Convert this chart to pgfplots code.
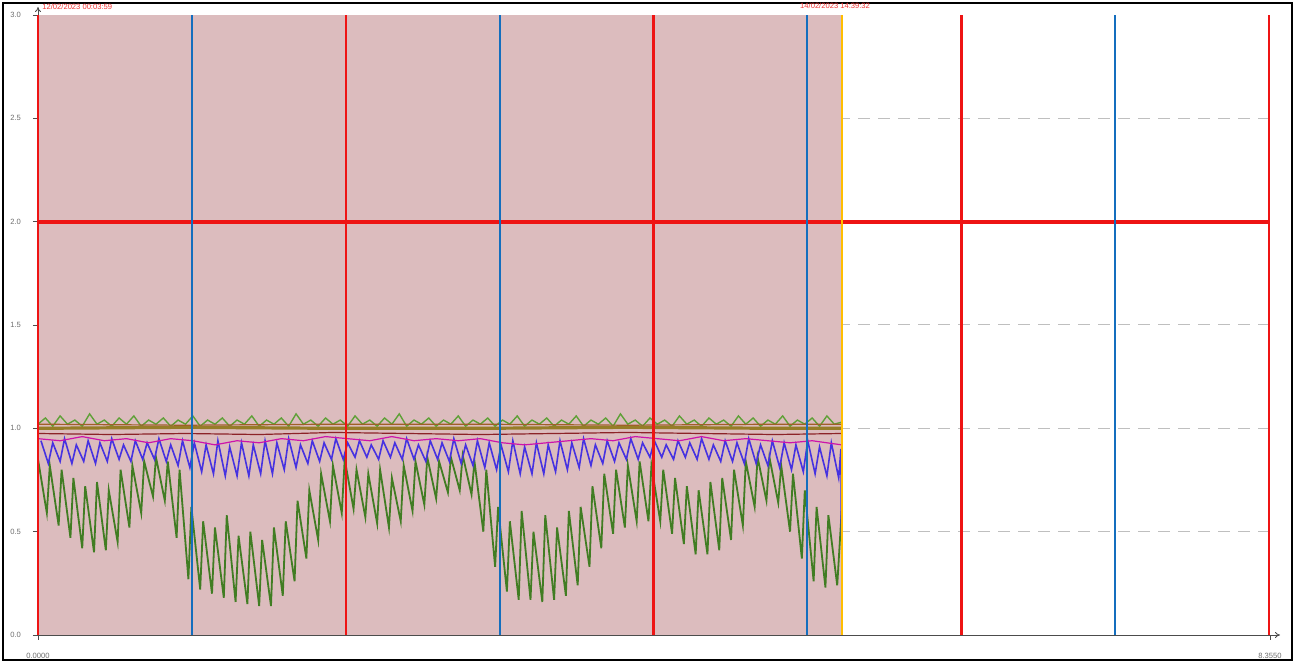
\documentclass[border=0pt]{standalone}
\usepackage{pgfplots}
\pgfplotsset{compat=1.18}
\usepackage{fontspec}
\setmainfont{Liberation Sans}
\usetikzlibrary{arrows.meta}
\definecolor{shade}{RGB}{220,188,190}
\definecolor{vred}{RGB}{238,20,20}
\definecolor{vblue}{RGB}{20,110,190}
\definecolor{vorange}{RGB}{255,190,0}
\definecolor{gtop}{RGB}{95,160,55}
\definecolor{glow}{RGB}{65,125,35}
\definecolor{pblue}{RGB}{70,50,225}
\definecolor{mag}{RGB}{205,20,170}
\definecolor{olive}{RGB}{150,125,40}
\definecolor{dred}{RGB}{140,35,40}
\definecolor{brn}{RGB}{160,95,40}
\definecolor{lbl}{RGB}{110,110,110}
\definecolor{dtxt}{RGB}{240,50,50}
\begin{document}
\begin{tikzpicture}
\useasboundingbox (0,0) rectangle (647.5pt,331.5pt);
\draw[black, line width=1pt] (1.5pt,1.5pt) rectangle (646pt,330pt);
\begin{axis}[
  at={(19pt,14pt)}, anchor=south west,
  scale only axis, width=616pt, height=310pt,
  xmin=0, xmax=8.355, ymin=0, ymax=3,
  clip=false,
  axis lines=left,
  axis line style={draw=black!70, line width=0.4pt},
  x axis line style={-{To[length=2.5pt,width=3pt]}, shorten >=-5pt},
  y axis line style={-{To[length=2.5pt,width=3pt]}, shorten >=-4pt},
  ytick={0,0.5,1,1.5,2,2.5,3},
  yticklabels={0.0,0.5,1.0,1.5,2.0,2.5,3.0},
  xtick={0,8.355}, xticklabels={0.0000,8.3550},
  tick style={black!70, line width=0.4pt}, tick align=outside, major tick length=2.5pt,
  ticklabel style={font=\fontsize{3.8}{4}\selectfont, text=lbl},
  yticklabel style={xshift=-2.5pt},
  xticklabel style={yshift=-3pt},
]
% dashed grid
\addplot[gray!50, line width=0.5pt, dash pattern=on 6pt off 4pt] coordinates {(0,0.5)(8.355,0.5)};
\addplot[gray!50, line width=0.5pt, dash pattern=on 6pt off 4pt] coordinates {(0,1)(8.355,1)};
\addplot[gray!50, line width=0.5pt, dash pattern=on 6pt off 4pt] coordinates {(0,1.5)(8.355,1.5)};
\addplot[gray!50, line width=0.5pt, dash pattern=on 6pt off 4pt] coordinates {(0,2.5)(8.355,2.5)};
% shaded region
\addplot[fill=shade, draw=none] coordinates {(0,3)(5.453,3)} \closedcycle;
% lower green
\addplot[glow, line width=0.9pt] coordinates {(0.00,0.85)(0.06,0.59)(0.08,0.82)(0.14,0.53)(0.16,0.80)(0.22,0.47)(0.24,0.76)(0.30,0.42)(0.32,0.72)(0.38,0.40)(0.40,0.74)(0.46,0.41)(0.48,0.70)(0.54,0.45)(0.56,0.80)(0.62,0.52)(0.64,0.82)(0.70,0.59)(0.72,0.84)(0.78,0.67)(0.80,0.86)(0.86,0.65)(0.88,0.84)(0.94,0.47)(0.96,0.80)(1.02,0.27)(1.04,0.62)(1.10,0.22)(1.12,0.55)(1.18,0.20)(1.20,0.52)(1.26,0.18)(1.28,0.58)(1.34,0.16)(1.36,0.48)(1.42,0.15)(1.44,0.50)(1.50,0.14)(1.52,0.46)(1.58,0.14)(1.60,0.52)(1.66,0.19)(1.68,0.55)(1.74,0.26)(1.76,0.65)(1.82,0.37)(1.84,0.70)(1.90,0.46)(1.92,0.78)(1.98,0.55)(2.00,0.82)(2.06,0.59)(2.08,0.85)(2.14,0.61)(2.16,0.80)(2.22,0.57)(2.24,0.78)(2.30,0.54)(2.32,0.80)(2.38,0.52)(2.40,0.76)(2.46,0.55)(2.48,0.82)(2.54,0.60)(2.56,0.84)(2.62,0.63)(2.64,0.86)(2.70,0.66)(2.72,0.84)(2.78,0.69)(2.80,0.86)(2.86,0.70)(2.88,0.87)(2.94,0.68)(2.96,0.84)(3.02,0.50)(3.04,0.80)(3.10,0.33)(3.12,0.62)(3.18,0.21)(3.20,0.55)(3.26,0.17)(3.28,0.60)(3.34,0.17)(3.36,0.50)(3.42,0.16)(3.44,0.58)(3.50,0.17)(3.52,0.52)(3.58,0.19)(3.60,0.60)(3.66,0.24)(3.68,0.62)(3.74,0.33)(3.76,0.72)(3.82,0.42)(3.84,0.78)(3.90,0.49)(3.92,0.80)(3.98,0.52)(4.00,0.82)(4.06,0.55)(4.08,0.84)(4.14,0.55)(4.16,0.82)(4.22,0.55)(4.24,0.80)(4.30,0.49)(4.32,0.76)(4.38,0.44)(4.40,0.72)(4.46,0.39)(4.48,0.70)(4.54,0.39)(4.56,0.74)(4.62,0.41)(4.64,0.76)(4.70,0.46)(4.72,0.80)(4.78,0.53)(4.80,0.84)(4.86,0.62)(4.88,0.86)(4.94,0.65)(4.96,0.86)(5.02,0.64)(5.04,0.82)(5.10,0.50)(5.12,0.78)(5.18,0.37)(5.20,0.70)(5.26,0.26)(5.28,0.62)(5.34,0.23)(5.36,0.58)(5.42,0.24)(5.45,0.60)};
% blue sawtooth
\addplot[pblue, line width=0.8pt] coordinates {(0.02,0.94)(0.07,0.83)(0.10,0.93)(0.15,0.84)(0.18,0.95)(0.23,0.83)(0.26,0.92)(0.31,0.84)(0.34,0.94)(0.39,0.83)(0.42,0.93)(0.47,0.84)(0.50,0.95)(0.55,0.85)(0.58,0.92)(0.63,0.84)(0.66,0.94)(0.71,0.85)(0.74,0.93)(0.79,0.85)(0.82,0.95)(0.87,0.84)(0.90,0.92)(0.95,0.82)(0.98,0.94)(1.03,0.81)(1.06,0.93)(1.11,0.79)(1.14,0.92)(1.19,0.78)(1.22,0.94)(1.27,0.77)(1.30,0.91)(1.35,0.77)(1.38,0.93)(1.43,0.77)(1.46,0.92)(1.51,0.78)(1.54,0.94)(1.59,0.78)(1.62,0.93)(1.67,0.80)(1.70,0.95)(1.75,0.81)(1.78,0.92)(1.83,0.83)(1.86,0.94)(1.91,0.84)(1.94,0.93)(1.99,0.85)(2.02,0.95)(2.07,0.85)(2.10,0.93)(2.15,0.86)(2.18,0.94)(2.23,0.86)(2.26,0.92)(2.31,0.85)(2.34,0.94)(2.39,0.86)(2.42,0.93)(2.47,0.85)(2.50,0.95)(2.55,0.85)(2.58,0.92)(2.63,0.84)(2.66,0.94)(2.71,0.85)(2.74,0.93)(2.79,0.84)(2.82,0.95)(2.87,0.83)(2.90,0.92)(2.95,0.82)(2.98,0.94)(3.03,0.81)(3.06,0.93)(3.11,0.80)(3.14,0.92)(3.19,0.79)(3.22,0.94)(3.27,0.78)(3.30,0.91)(3.35,0.78)(3.38,0.93)(3.43,0.78)(3.46,0.92)(3.51,0.79)(3.54,0.94)(3.59,0.80)(3.62,0.93)(3.67,0.81)(3.70,0.95)(3.75,0.82)(3.78,0.92)(3.83,0.83)(3.86,0.94)(3.91,0.84)(3.94,0.93)(3.99,0.85)(4.02,0.95)(4.07,0.85)(4.10,0.93)(4.15,0.86)(4.18,0.94)(4.23,0.86)(4.26,0.92)(4.31,0.85)(4.34,0.94)(4.39,0.86)(4.42,0.93)(4.47,0.85)(4.50,0.95)(4.55,0.85)(4.58,0.92)(4.63,0.84)(4.66,0.94)(4.71,0.84)(4.74,0.93)(4.79,0.83)(4.82,0.95)(4.87,0.83)(4.90,0.92)(4.95,0.82)(4.98,0.94)(5.03,0.81)(5.06,0.93)(5.11,0.80)(5.14,0.92)(5.19,0.79)(5.22,0.94)(5.27,0.78)(5.30,0.91)(5.35,0.77)(5.38,0.93)(5.43,0.76)(5.445,0.90)(5.448,0.48)};
% magenta
\addplot[mag, line width=0.6pt] coordinates {(0,0.95)(0.15,0.94)(0.3,0.96)(0.45,0.94)(0.6,0.95)(0.75,0.93)(0.9,0.95)(1.05,0.94)(1.2,0.92)(1.35,0.94)(1.5,0.93)(1.65,0.95)(1.8,0.94)(1.95,0.96)(2.1,0.95)(2.25,0.94)(2.4,0.96)(2.55,0.94)(2.7,0.95)(2.85,0.94)(3.0,0.95)(3.15,0.93)(3.3,0.92)(3.45,0.93)(3.6,0.94)(3.75,0.95)(3.9,0.94)(4.05,0.96)(4.2,0.95)(4.35,0.94)(4.5,0.96)(4.65,0.94)(4.8,0.95)(4.95,0.94)(5.1,0.93)(5.25,0.94)(5.45,0.92)};
% top green noisy
\addplot[gtop, line width=0.7pt] coordinates {(0.00,1.02)(0.05,1.05)(0.10,1.01)(0.15,1.06)(0.20,1.02)(0.25,1.04)(0.30,1.01)(0.35,1.07)(0.40,1.02)(0.45,1.04)(0.50,1.01)(0.55,1.05)(0.60,1.02)(0.65,1.06)(0.70,1.01)(0.75,1.04)(0.80,1.02)(0.85,1.05)(0.90,1.01)(0.95,1.04)(1.00,1.02)(1.05,1.06)(1.10,1.01)(1.15,1.04)(1.20,1.02)(1.25,1.05)(1.30,1.01)(1.35,1.04)(1.40,1.02)(1.45,1.06)(1.50,1.01)(1.55,1.04)(1.60,1.02)(1.65,1.05)(1.70,1.01)(1.75,1.07)(1.80,1.02)(1.85,1.04)(1.90,1.01)(1.95,1.05)(2.00,1.02)(2.05,1.04)(2.10,1.01)(2.15,1.06)(2.20,1.02)(2.25,1.04)(2.30,1.01)(2.35,1.05)(2.40,1.02)(2.45,1.07)(2.50,1.01)(2.55,1.04)(2.60,1.02)(2.65,1.05)(2.70,1.01)(2.75,1.04)(2.80,1.02)(2.85,1.06)(2.90,1.01)(2.95,1.04)(3.00,1.02)(3.05,1.05)(3.10,1.01)(3.15,1.04)(3.20,1.02)(3.25,1.06)(3.30,1.01)(3.35,1.04)(3.40,1.02)(3.45,1.05)(3.50,1.01)(3.55,1.04)(3.60,1.02)(3.65,1.06)(3.70,1.01)(3.75,1.04)(3.80,1.02)(3.85,1.05)(3.90,1.01)(3.95,1.07)(4.00,1.02)(4.05,1.04)(4.10,1.01)(4.15,1.05)(4.20,1.02)(4.25,1.04)(4.30,1.01)(4.35,1.06)(4.40,1.02)(4.45,1.04)(4.50,1.01)(4.55,1.05)(4.60,1.02)(4.65,1.04)(4.70,1.01)(4.75,1.06)(4.80,1.02)(4.85,1.05)(4.90,1.01)(4.95,1.04)(5.00,1.02)(5.05,1.06)(5.10,1.01)(5.15,1.04)(5.20,1.02)(5.25,1.05)(5.30,1.01)(5.35,1.06)(5.40,1.02)(5.45,1.03)};
% olive / brown / dark red band
\addplot[olive, line width=1.6pt] coordinates {(0,1.0)(1,1.005)(2,1.0)(3,1.0)(4,1.005)(5,1.0)(5.45,1.0)};
\addplot[brn, line width=0.6pt] coordinates {(0,1.02)(1,1.015)(2,1.02)(3,1.02)(4,1.015)(5,1.02)(5.45,1.02)};
\addplot[dred, line width=0.6pt] coordinates {(0,0.975)(0.5,0.97)(1.0,0.975)(1.5,0.97)(2.0,0.98)(2.5,0.975)(3.0,0.97)(3.5,0.975)(4.0,0.98)(4.5,0.975)(5.0,0.97)(5.45,0.975)};
% horizontal red line at 2
\addplot[vred, line width=2pt] coordinates {(0,2)(8.355,2)};
% vertical markers
\addplot[vblue, line width=1pt] coordinates {(1.044,0)(1.044,3)};
\addplot[vblue, line width=1pt] coordinates {(3.133,0)(3.133,3)};
\addplot[vblue, line width=1pt] coordinates {(5.215,0)(5.215,3)};
\addplot[vblue, line width=1pt] coordinates {(7.304,0)(7.304,3)};
\addplot[vred, line width=1.2pt] coordinates {(0,0)(0,3)};
\addplot[vred, line width=1.2pt] coordinates {(2.087,0)(2.087,3)};
\addplot[vred, line width=1.2pt] coordinates {(4.175,0)(4.175,3)};
\addplot[vred, line width=1.2pt] coordinates {(6.262,0)(6.262,3)};
\addplot[vred, line width=1.2pt] coordinates {(8.349,0)(8.349,3)};
\addplot[vorange, line width=1pt] coordinates {(5.453,0)(5.453,3)};
% date labels
\node[anchor=base west, inner sep=0pt, text=dtxt, font=\fontsize{3.8}{4}\selectfont] at (axis cs:0,3) [xshift=2pt, yshift=2.5pt] {12/02/2023 00:03:59};
\node[anchor=base, inner sep=0pt, text=dtxt, font=\fontsize{3.8}{4}\selectfont] at (axis cs:5.453,3) [xshift=-3.5pt, yshift=3.3pt] {14/02/2023 14:39:32};
\end{axis}
\end{tikzpicture}
\end{document}
